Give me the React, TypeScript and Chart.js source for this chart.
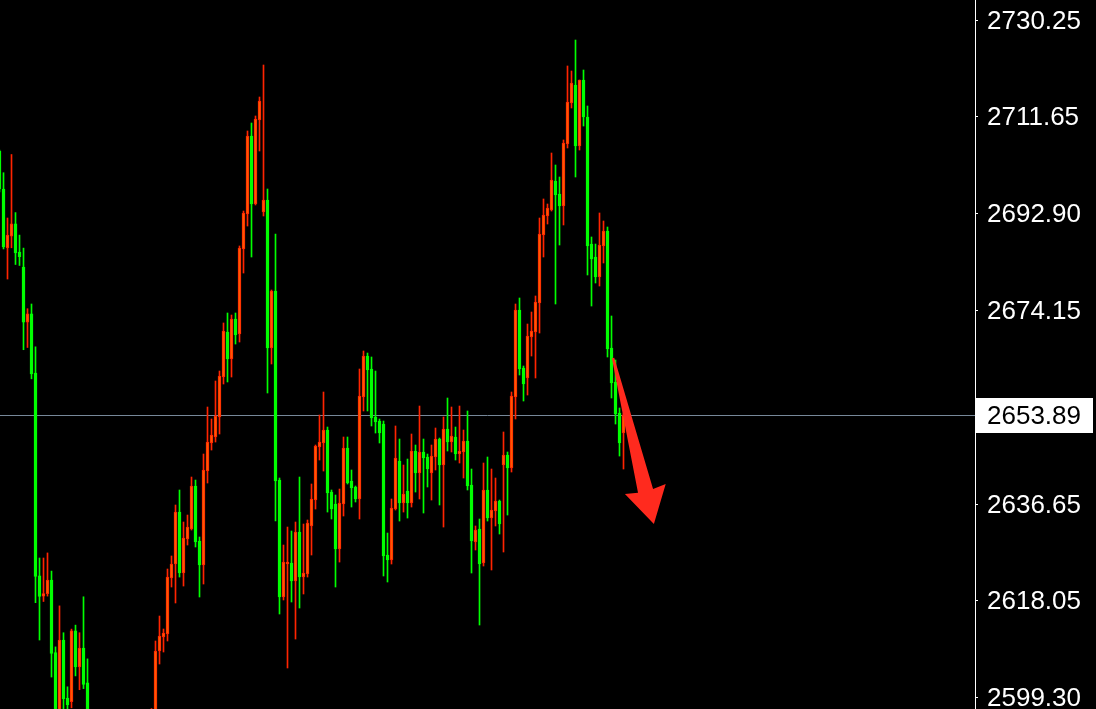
import React, { useEffect, useRef } from "react";
import { Chart, registerables } from "chart.js";

Chart.register(...registerables);

// OHLC per candle (index 0 = leftmost visible candle)
const opens = [
  2704.92, 2697.57, 2686.20, 2688.44, 2690.84, 2685.37, 2682.48, 2671.83, 2673.43, 2661.99,
  2622.77, 2618.84, 2619.32, 2621.93, 2607.90, 2595.20, 2610.35, 2599.12, 2598.42, 2612.11,
  2605.15, 2608.80, 2602.07, 2594.0, 2588.2, 2583.0, 2587.6, 2579.9, 2575.4, 2580.8,
  2584.3, 2581.2, 2577.0, 2583.6, 2588.4, 2586.1, 2590.2, 2588.9, 2592.4, 2594.8,
  2608.22, 2610.93, 2611.51, 2622.34, 2625.05, 2635.10, 2623.31, 2629.88, 2631.82, 2640.13,
  2629.50, 2624.85, 2643.03, 2648.45, 2649.61, 2653.48, 2661.21, 2669.91, 2664.69, 2672.43,
  2669.53, 2685.97, 2692.73, 2707.82, 2694.67, 2710.91, 2693.12, 2695.44, 2666.82, 2677.84,
  2641.29, 2618.67, 2625.05, 2625.24, 2621.76, 2631.24, 2622.53, 2623.11, 2632.40, 2637.42,
  2647.67, 2648.45, 2650.96, 2638.97, 2636.65, 2627.95, 2636.65, 2647.48, 2641.10, 2639.94,
  2637.62, 2657.34, 2665.27, 2662.76, 2653.48, 2652.70, 2652.12, 2626.79, 2625.82, 2635.68,
  2644.97, 2636.84, 2639.17, 2636.84, 2646.90, 2642.65, 2646.71, 2645.74, 2642.65, 2645.74,
  2649.22, 2644.19, 2651.16, 2648.64, 2649.61, 2646.32, 2646.71, 2648.83, 2640.33, 2629.30,
  2631.82, 2625.24, 2639.36, 2633.94, 2635.30, 2637.23, 2644.19, 2646.13, 2643.61, 2657.34,
  2674.17, 2662.95, 2661.02, 2668.95, 2669.91, 2675.52, 2688.67, 2692.35, 2693.51, 2699.12,
  2696.60, 2694.28, 2706.27, 2714.20, 2717.68, 2705.89, 2718.65, 2711.49, 2686.93, 2684.42,
  2680.55, 2686.55, 2689.45, 2666.82, 2660.25, 2654.25, 2650.38,
];
const highs = [
  2705.11, 2700.72, 2691.96, 2704.24, 2693.01, 2688.65, 2686.14, 2674.42, 2675.33, 2667.05,
  2626.21, 2626.21, 2627.19, 2623.68, 2609.02, 2616.95, 2611.76, 2601.30, 2612.46, 2613.23,
  2611.76, 2618.71, 2606.70, 2595.8, 2591.0, 2589.5, 2590.4, 2584.1, 2582.7, 2586.0,
  2588.8, 2583.9, 2585.2, 2590.1, 2592.3, 2591.6, 2594.5, 2593.7, 2597.1, 2610.16,
  2614.99, 2612.48, 2624.08, 2626.60, 2636.46, 2639.36, 2633.17, 2634.52, 2641.87, 2641.29,
  2630.27, 2646.32, 2655.41, 2653.09, 2660.44, 2662.37, 2671.66, 2673.59, 2673.20, 2673.59,
  2686.55, 2693.31, 2708.79, 2710.33, 2711.69, 2715.36, 2721.55, 2697.57, 2678.04, 2688.87,
  2641.68, 2628.72, 2632.20, 2631.43, 2633.17, 2641.87, 2632.78, 2633.56, 2640.52, 2648.06,
  2653.86, 2658.31, 2651.54, 2639.36, 2638.39, 2639.55, 2649.61, 2649.61, 2643.23, 2640.13,
  2662.76, 2666.24, 2665.85, 2665.08, 2662.37, 2653.09, 2652.70, 2631.04, 2637.62, 2651.74,
  2649.22, 2644.19, 2645.35, 2650.19, 2648.06, 2655.60, 2649.22, 2646.32, 2648.06, 2651.35,
  2649.41, 2653.48, 2657.15, 2655.41, 2651.54, 2655.60, 2650.96, 2654.64, 2643.42, 2632.40,
  2633.75, 2644.58, 2645.74, 2643.42, 2641.68, 2637.42, 2650.58, 2646.71, 2658.31, 2675.33,
  2676.49, 2663.34, 2671.46, 2673.78, 2676.88, 2691.96, 2695.64, 2694.67, 2704.53, 2702.21,
  2699.89, 2707.05, 2721.36, 2720.39, 2726.38, 2718.65, 2720.58, 2713.62, 2688.29, 2686.93,
  2692.93, 2691.38, 2690.22, 2673.01, 2664.50, 2655.22, 2654.25,
];
const lows = [
  2696.99, 2685.98, 2680.16, 2686.20, 2682.97, 2682.78, 2666.49, 2666.92, 2660.86, 2617.58,
  2610.35, 2617.80, 2618.84, 2603.19, 2593.50, 2593.00, 2596.00, 2596.20, 2597.24, 2603.41,
  2600.74, 2600.95, 2592.00, 2586.5, 2581.4, 2580.2, 2578.3, 2572.6, 2573.0, 2577.5,
  2579.1, 2574.4, 2575.8, 2581.0, 2584.7, 2583.3, 2586.8, 2585.5, 2589.0, 2590.0,
  2605.71, 2608.03, 2610.16, 2620.60, 2617.51, 2622.53, 2620.79, 2628.72, 2631.62, 2628.34,
  2618.67, 2621.18, 2640.71, 2647.09, 2648.64, 2650.19, 2659.86, 2660.25, 2661.21, 2667.59,
  2667.98, 2681.32, 2690.41, 2684.42, 2694.48, 2704.92, 2692.35, 2658.12, 2663.73, 2633.36,
  2615.38, 2618.09, 2604.94, 2617.70, 2610.54, 2616.54, 2619.25, 2622.53, 2626.79, 2635.68,
  2645.16, 2643.03, 2635.10, 2633.75, 2620.60, 2625.43, 2634.33, 2640.52, 2636.07, 2637.04,
  2633.75, 2654.64, 2654.64, 2651.74, 2650.38, 2648.45, 2622.73, 2621.57, 2625.05, 2635.49,
  2633.36, 2635.10, 2633.94, 2636.07, 2638.97, 2637.62, 2634.91, 2639.94, 2637.42, 2643.23,
  2636.46, 2632.20, 2646.90, 2646.71, 2645.16, 2644.58, 2641.68, 2639.36, 2623.31, 2627.76,
  2613.25, 2624.66, 2633.36, 2623.89, 2632.40, 2630.85, 2627.37, 2634.52, 2642.84, 2653.09,
  2661.60, 2656.57, 2657.73, 2665.27, 2661.02, 2669.72, 2684.42, 2690.80, 2693.31, 2675.33,
  2686.74, 2690.61, 2705.50, 2713.23, 2699.89, 2705.11, 2709.75, 2680.94, 2674.94, 2679.39,
  2678.81, 2683.26, 2665.08, 2657.15, 2652.12, 2645.93, 2643.42,
];
const closes = [
  2697.57, 2686.35, 2688.65, 2690.84, 2685.23, 2684.46, 2671.83, 2673.43, 2661.79, 2622.63,
  2618.76, 2619.32, 2621.93, 2607.76, 2595.00, 2610.35, 2598.98, 2597.78, 2612.11, 2605.15,
  2608.80, 2601.78, 2594.00, 2588.2, 2583.0, 2587.6, 2579.9, 2575.4, 2580.8, 2584.3,
  2581.2, 2577.0, 2583.6, 2588.4, 2586.1, 2590.2, 2588.9, 2592.4, 2594.8, 2608.22,
  2611.12, 2611.70, 2622.53, 2625.05, 2635.10, 2623.31, 2630.08, 2632.20, 2640.13, 2629.30,
  2624.85, 2643.23, 2648.64, 2650.00, 2653.67, 2661.41, 2670.11, 2664.69, 2672.43, 2669.33,
  2686.16, 2692.93, 2707.82, 2694.67, 2711.11, 2714.59, 2695.44, 2666.82, 2677.84, 2641.10,
  2618.67, 2625.43, 2625.43, 2621.76, 2631.24, 2622.53, 2623.31, 2632.98, 2637.62, 2647.87,
  2648.64, 2650.96, 2638.78, 2635.68, 2627.95, 2636.84, 2647.48, 2640.71, 2639.75, 2637.62,
  2657.54, 2665.27, 2662.57, 2653.28, 2652.51, 2650.38, 2626.60, 2625.82, 2635.88, 2645.55,
  2636.84, 2638.59, 2636.84, 2646.90, 2642.65, 2646.71, 2645.55, 2643.42, 2645.93, 2649.22,
  2644.19, 2651.16, 2648.64, 2649.80, 2646.32, 2646.90, 2648.83, 2640.13, 2629.50, 2631.62,
  2625.05, 2639.36, 2633.94, 2635.49, 2637.23, 2632.78, 2646.13, 2643.61, 2657.54, 2674.17,
  2662.76, 2659.86, 2669.14, 2670.11, 2675.72, 2688.87, 2692.54, 2693.89, 2699.31, 2696.41,
  2694.28, 2706.47, 2714.39, 2718.07, 2705.89, 2718.65, 2711.49, 2686.55, 2684.03, 2680.55,
  2686.74, 2689.45, 2666.63, 2660.05, 2654.06, 2648.45, 2653.89,
];

const yTicks = [2730.25, 2711.65, 2692.9, 2674.15, 2636.65, 2618.05, 2599.3];
const bidPrice = 2653.89;
const priceMin = 2597.01;
const priceMax = 2734.12;
const indexMin = 0.125;
const indexMax = 243.875;
// arrow annotation (candle index, price)
const arrowStart = { x: 153.4, y: 2664.9 };
const arrowTip = { x: 163.6, y: 2632.8 };

const UP_FILL = "#ff5a00";
const UP_EDGE = "#ff2400";
const DOWN = "#00ff00";
const FONT = "'Liberation Sans', Arial, sans-serif";

const isUp = (i: number) => closes[i] >= opens[i];

const overlayPlugin = {
  id: "mt4overlay",
  beforeDatasetsDraw(chart: any) {
    const { ctx, chartArea, scales } = chart;
    const y = Math.round(scales.y.getPixelForValue(bidPrice)) + 0.5;
    ctx.save();
    ctx.strokeStyle = "#778899";
    ctx.lineWidth = 1;
    ctx.beginPath();
    ctx.moveTo(chartArea.left, y);
    ctx.lineTo(chartArea.right, y);
    ctx.stroke();
    ctx.restore();
  },
  afterDraw(chart: any) {
    const { ctx, chartArea, scales } = chart;
    const yb = scales.y.getPixelForValue(bidPrice);
    ctx.save();
    // bid price label
    ctx.fillStyle = "#ffffff";
    ctx.fillRect(chartArea.right + 1, Math.round(yb) - 17, 117, 35);
    ctx.fillStyle = "#000000";
    ctx.font = `26px ${FONT}`;
    ctx.textBaseline = "middle";
    ctx.textAlign = "left";
    ctx.fillText(bidPrice.toFixed(2), chartArea.right + 12, yb + 2);

    // arrow
    const sx = scales.x.getPixelForValue(arrowStart.x);
    const sy = scales.y.getPixelForValue(arrowStart.y);
    const tx = scales.x.getPixelForValue(arrowTip.x);
    const ty = scales.y.getPixelForValue(arrowTip.y);
    const dx = tx - sx, dy = ty - sy;
    const L = Math.hypot(dx, dy);
    const ux = dx / L, uy = dy / L;
    const nx = uy, ny = -ux;
    const pt = (a: number, p: number) => [sx + ux * a + nx * p, sy + uy * a + ny * p];
    const headBase = L - 34;
    const pts = [
      pt(0, -1.2), pt(0, 1.2), pt(headBase, 7.5), pt(headBase - 2, 21), pt(L, 0),
      pt(headBase - 2, -21), pt(headBase, -8),
    ];
    ctx.fillStyle = "#ff2a1e";
    ctx.beginPath();
    ctx.moveTo(pts[0][0], pts[0][1]);
    for (let k = 1; k < pts.length; k++) ctx.lineTo(pts[k][0], pts[k][1]);
    ctx.closePath();
    ctx.fill();
    ctx.restore();
  },
};

export default function App() {
  const ref = useRef<HTMLCanvasElement | null>(null);
  useEffect(() => {
    document.body.style.margin = "0";
    document.body.style.background = "#000";
    const idx = opens.map((_, i) => i);
    const chart = new Chart(ref.current as HTMLCanvasElement, {
      type: "bar",
      data: {
        datasets: [
          {
            label: "body",
            data: idx.map((i) => ({ x: i, y: [opens[i], closes[i]] })) as any,
            backgroundColor: (c: any) => (isUp(c.dataIndex) ? UP_FILL : DOWN),
            borderColor: (c: any) => (isUp(c.dataIndex) ? UP_EDGE : DOWN),
            borderWidth: 1,
            borderSkipped: false,
            barThickness: 3,
            minBarLength: 1,
            grouped: false,
            order: 0,
          } as any,
          {
            label: "wick",
            data: idx.map((i) => ({ x: i, y: [lows[i], highs[i]] })) as any,
            backgroundColor: (c: any) => (isUp(c.dataIndex) ? UP_EDGE : DOWN),
            borderWidth: 0,
            barThickness: 1,
            grouped: false,
            order: 1,
          } as any,
        ],
      },
      options: {
        animation: false,
        responsive: false,
        devicePixelRatio: 1,
        layout: { padding: 0 },
        plugins: { legend: { display: false }, tooltip: { enabled: false } },
        scales: {
          x: {
            type: "linear",
            display: false,
            offset: false,
            min: indexMin,
            max: indexMax,
          },
          y: {
            position: "right",
            min: priceMin,
            max: priceMax,
            afterBuildTicks: (s: any) => {
              s.ticks = yTicks.map((v) => ({ value: v }));
            },
            afterFit: (s: any) => {
              s.width = 121;
              s.paddingTop = 0;
              s.paddingBottom = 0;
            },
            grid: {
              drawOnChartArea: false,
              drawTicks: true,
              tickLength: 3,
              tickColor: "#ffffff",
              color: "#ffffff",
            },
            border: { display: true, color: "#ffffff", width: 1 },
            ticks: {
              color: "#ffffff",
              padding: 9,
              labelOffset: 2,
              font: { family: FONT, size: 26 },
              callback: (v: any) => Number(v).toFixed(2),
            },
          },
        },
      } as any,
      plugins: [overlayPlugin],
    });
    return () => chart.destroy();
  }, []);
  return (
    <div style={{ position: "fixed", left: 0, top: 0, width: 1096, height: 709, background: "#000" }}>
      <canvas ref={ref} width={1096} height={709} style={{ display: "block" }} />
    </div>
  );
}
